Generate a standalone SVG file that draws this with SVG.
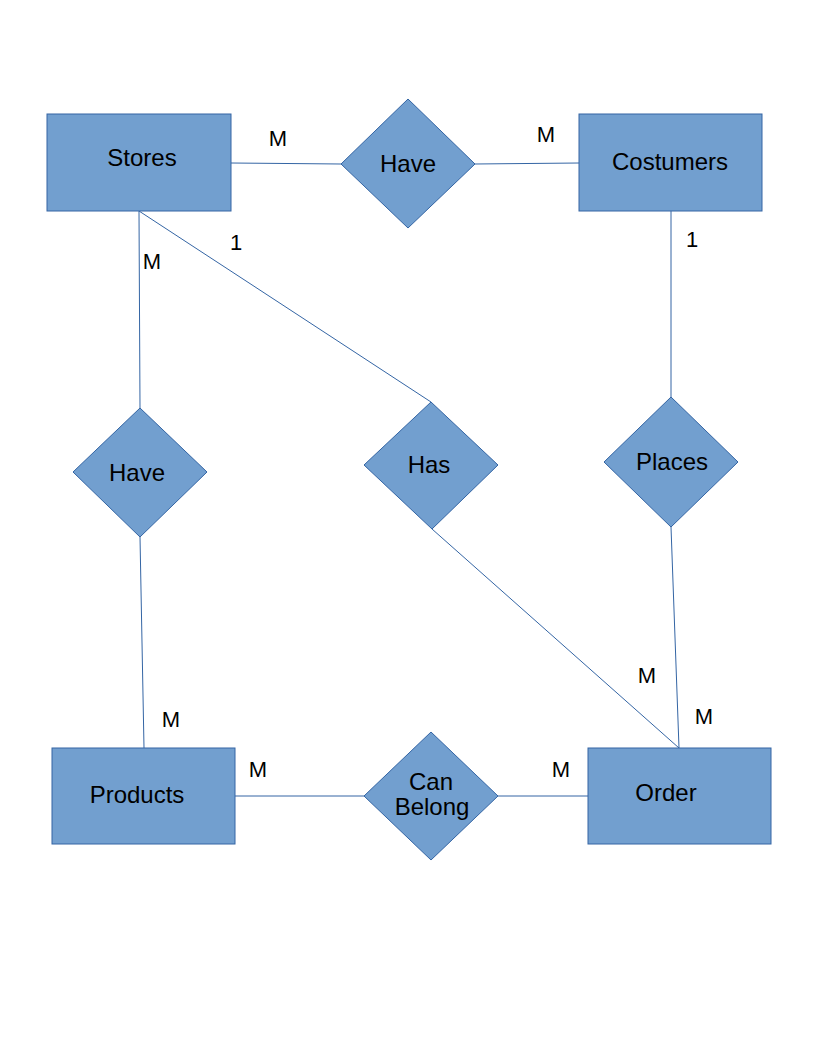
<svg xmlns="http://www.w3.org/2000/svg" width="816" height="1056" viewBox="0 0 816 1056">
<style>
.ent{fill:#729fcf;stroke:#3465a4;stroke-width:1}
.rel{fill:#729fcf;stroke:#3465a4;stroke-width:1}
.lbl{font-family:"Liberation Sans",Arial,sans-serif;font-size:24px;fill:#000;text-anchor:middle}
.card{font-family:"Liberation Sans",Arial,sans-serif;font-size:22px;fill:#000;text-anchor:middle}
.con line{stroke:#3465a4;stroke-width:1}
</style>
<rect width="816" height="1056" fill="#fff"/>
<g id="connectors" class="con">
<line x1="231" y1="163" x2="341" y2="164"/>
<line x1="475" y1="164" x2="579" y2="163"/>
<line x1="139" y1="211" x2="140" y2="408"/>
<line x1="139" y1="211" x2="431" y2="402"/>
<line x1="671" y1="211" x2="671" y2="397"/>
<line x1="140" y1="537" x2="144" y2="748"/>
<line x1="432" y1="529" x2="679" y2="748"/>
<line x1="671" y1="527" x2="679" y2="748"/>
<line x1="235" y1="796" x2="364" y2="796"/>
<line x1="498" y1="796" x2="588" y2="796"/>
</g>
<g id="stores"><rect class="ent" x="47" y="114" width="184" height="97"/><text class="lbl" x="142" y="166">Stores</text></g>
<g id="costumers"><rect class="ent" x="579" y="114" width="183" height="97"/><text class="lbl" x="670" y="170">Costumers</text></g>
<g id="products"><rect class="ent" x="52" y="748" width="183" height="96"/><text class="lbl" x="137" y="803">Products</text></g>
<g id="order"><rect class="ent" x="588" y="748" width="183" height="96"/><text class="lbl" x="666" y="801">Order</text></g>
<g id="have-top"><polygon class="rel" points="408,99 475,164 408,228 341,164"/><text class="lbl" x="408" y="172">Have</text></g>
<g id="have-left"><polygon class="rel" points="140,408 207,472 140,537 73,472"/><text class="lbl" x="137" y="481">Have</text></g>
<g id="has"><polygon class="rel" points="431,402 498,465 432,529 364,465"/><text class="lbl" x="429" y="473">Has</text></g>
<g id="places"><polygon class="rel" points="671,397 738,462 671,527 604,462"/><text class="lbl" x="672" y="470">Places</text></g>
<g id="can-belong"><polygon class="rel" points="431,732 498,796 431,860 364,796"/><text class="lbl" x="431" y="790">Can</text><text class="lbl" x="432" y="815">Belong</text></g>
<g id="cardinalities">
<text class="card" x="278" y="146">M</text>
<text class="card" x="546" y="142">M</text>
<text class="card" x="236" y="250">1</text>
<text class="card" x="152" y="269">M</text>
<text class="card" x="692" y="247">1</text>
<text class="card" x="171" y="727">M</text>
<text class="card" x="647" y="683">M</text>
<text class="card" x="704" y="724">M</text>
<text class="card" x="258" y="777">M</text>
<text class="card" x="561" y="777">M</text>
</g>
</svg>
